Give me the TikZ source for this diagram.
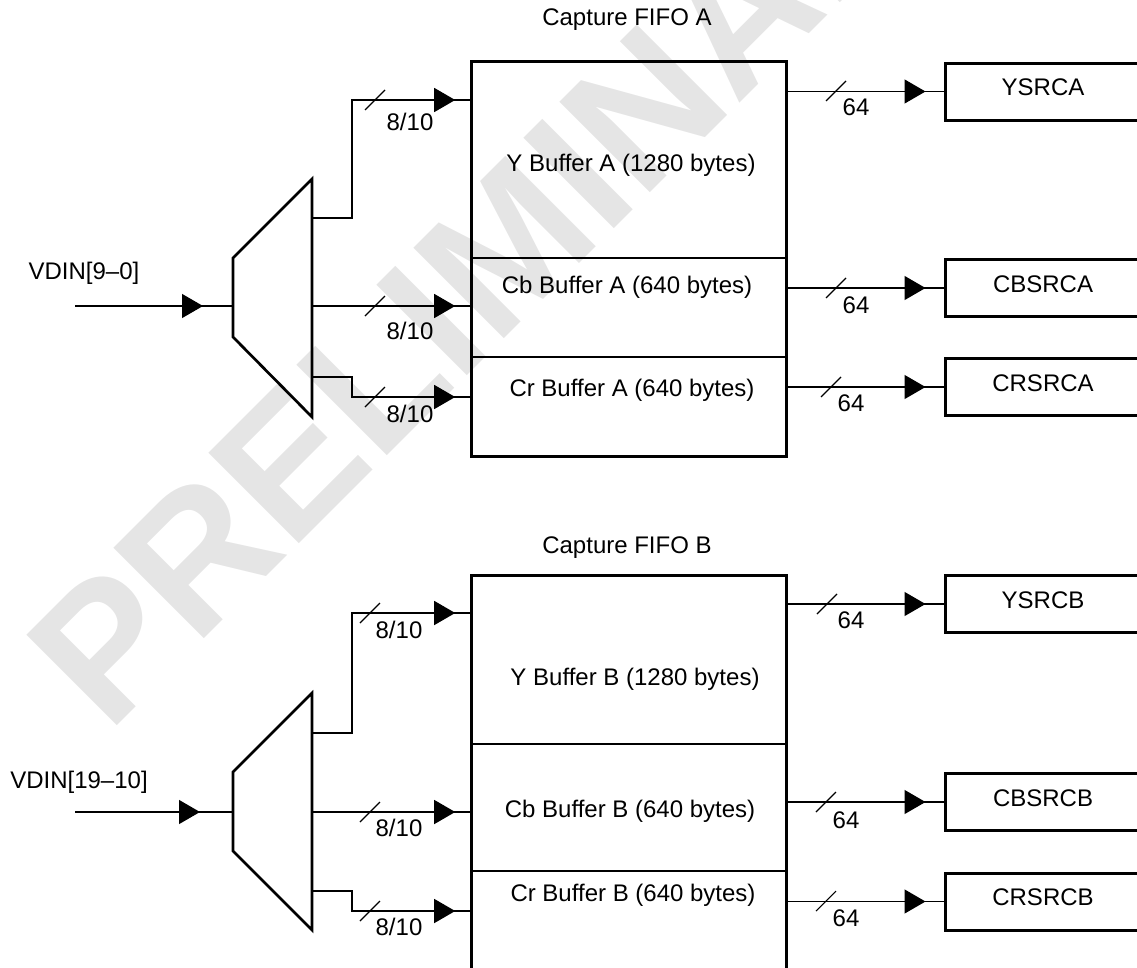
\documentclass[tikz,border=0pt]{standalone}
\usepackage{fontspec}
\setmainfont{Liberation Sans}
\usetikzlibrary{arrows.meta,positioning,decorations.markings}

\begin{document}
\begin{tikzpicture}[x=1pt, y=-1pt,
    every node/.style={font=\fontsize{24}{28}\selectfont, inner sep=0pt},
    fifo/.style={rectangle, draw, line width=3pt, minimum width=315pt},
    src/.style={rectangle, draw, line width=3pt, minimum width=196pt, minimum height=57pt, text depth=8pt},
    wire/.style={line width=1.3pt},
    mux/.style={line width=2.7pt, line join=miter},
    midtip/.style={wire, postaction={decorate}, decoration={markings,
        mark=at position -#1 with {\arrow{Triangle[length=21pt, width=24pt]}}}},
    slash/.style={line width=1.1pt}
]
    \useasboundingbox (0,0) rectangle (1137,967);
    \clip (0,0) rectangle (1137,967);

    % watermark
    \node[rotate=45, anchor=base west, text=black!10,
          font=\fontsize{186}{186}\selectfont\bfseries] (wmark) at (108,735) {PRELIMINARY};

    % capture FIFO A
    \node[fifo, minimum height=395pt] (fifoa) at (629.2,258.5) {};
    \node (capa) at (627,20) {Capture FIFO A};
    \draw[wire] (fifoa.west |- 0,258) -- (fifoa.east |- 0,258);
    \draw[wire] (fifoa.west |- 0,357) -- (fifoa.east |- 0,357);
    \node (yba) at (631,165) {Y Buffer A (1280 bytes)};
    \node (cba) at (627,287) {Cb Buffer A (640 bytes)};
    \node (cra) at (632,390) {Cr Buffer A (640 bytes)};

    \node[src] (ysrca) at (1043,91.5) {YSRCA};
    \node[src] (cbsrca) at (1043,288) {CBSRCA};
    \node[src] (crsrca) at (1043,387) {CRSRCA};

    % mux A
    \draw[mux] (233,258) -- (312,179) -- (312,417) -- (233,337) -- cycle;
    \coordinate (mxa-in) at (233,306);
    \coordinate (mxa-o1) at (312,218);
    \coordinate (mxa-o2) at (312,306);
    \coordinate (mxa-o3) at (312,377);
    \coordinate (vina) at (75,306);
    \node (vdina) at (84,273) {VDIN[9–0]};

    \draw[midtip=30pt] (vina) -- (mxa-in);
    \draw[midtip=15pt] (mxa-o1) -| (352,100) -- (fifoa.west |- 0,100);
    \draw[midtip=15pt] (mxa-o2) -- (fifoa.west |- mxa-o2);
    \draw[midtip=15pt] (mxa-o3) -| (352,397) -- (fifoa.west |- 0,397);
    \draw[midtip=18pt] (fifoa.east |- ysrca.west) -- (ysrca.west);
    \draw[midtip=18pt] (fifoa.east |- cbsrca.west) -- (cbsrca.west);
    \draw[midtip=18pt] (fifoa.east |- crsrca.west) -- (crsrca.west);

    % capture FIFO B
    \node[fifo, minimum height=425pt] (fifob) at (629.2,787.5) {};
    \node (capb) at (627,548) {Capture FIFO B};
    \draw[wire] (fifob.west |- 0,744) -- (fifob.east |- 0,744);
    \draw[wire] (fifob.west |- 0,871) -- (fifob.east |- 0,871);
    \node (ybb) at (635,679) {Y Buffer B (1280 bytes)};
    \node (cbb) at (630,811) {Cb Buffer B (640 bytes)};
    \node (crb) at (633,895) {Cr Buffer B (640 bytes)};

    \node[src] (ysrcb) at (1043,604) {YSRCB};
    \node[src] (cbsrcb) at (1043,802) {CBSRCB};
    \node[src] (crsrcb) at (1043,901.5) {CRSRCB};

    % mux B
    \draw[mux] (233,772) -- (312,693) -- (312,930) -- (233,851) -- cycle;
    \coordinate (mxb-in) at (233,812);
    \coordinate (mxb-o1) at (312,733);
    \coordinate (mxb-o2) at (312,812);
    \coordinate (mxb-o3) at (312,891);
    \coordinate (vinb) at (75,812);
    \node (vdinb) at (79,782) {VDIN[19–10]};

    \draw[midtip=33pt] (vinb) -- (mxb-in);
    \draw[midtip=15pt] (mxb-o1) -| (352,613) -- (fifob.west |- 0,613);
    \draw[midtip=15pt] (mxb-o2) -- (fifob.west |- mxb-o2);
    \draw[midtip=15pt] (mxb-o3) -| (352,911) -- (fifob.west |- 0,911);
    \draw[midtip=18pt] (fifob.east |- ysrcb.west) -- (ysrcb.west);
    \draw[midtip=18pt] (fifob.east |- cbsrcb.west) -- (cbsrcb.west);
    \draw[midtip=18pt] (fifob.east |- crsrcb.west) -- (crsrcb.west);

    % bus widths
    \foreach \sx/\sy in {375/100, 375/306, 375/397, 370/613, 370/812, 370/911,
                         836/91, 836/288, 831/387, 827/604, 826/802, 826/901}
        \draw[slash] (\sx-10,\sy+10) -- (\sx+10,\sy-10);
    \foreach \lx/\ly [count=\i] in {410/122, 410/331, 410/414, 399/630, 399/828, 399/927}
        \node (win\i) at (\lx,\ly) {8/10};
    \foreach \lx/\ly [count=\i] in {856/107, 856/305, 851/403, 851/620, 846/820, 846/918}
        \node (wout\i) at (\lx,\ly) {64};
\end{tikzpicture}
\end{document}
